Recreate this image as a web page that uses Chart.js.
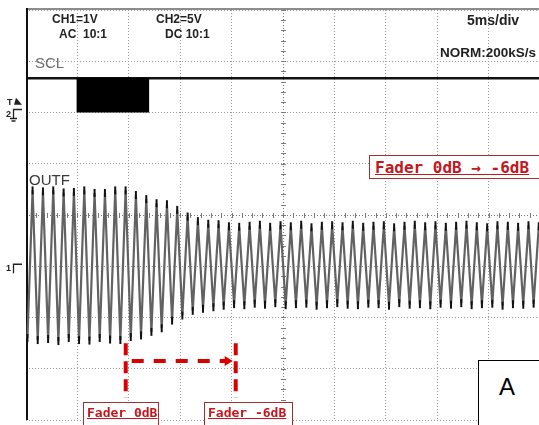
<!DOCTYPE html>
<html>
<head>
<meta charset="utf-8">
<script src="https://cdn.jsdelivr.net/npm/chart.js@4.4.1/dist/chart.umd.min.js"></script>
<style>
  html, body { margin: 0; padding: 0; background: #fff; }
  #wrap { position: relative; width: 539px; height: 425px; overflow: hidden; background: #fff; }
  #scope { position: absolute; left: 0; top: 0; }
  .lbl { position: absolute; white-space: pre; line-height: 1; font-family: "Liberation Sans", Arial, sans-serif; color: #222; }
  .hdr { font-weight: bold; font-size: 12px; }
  .box { position: absolute; background: #fff; box-sizing: border-box; }
  .fbox { border: 1.5px solid #a3302f; }
  .ftxt { color: #c4161c; font-family: "DejaVu Sans Mono", monospace; font-weight: bold; text-decoration: underline; }
</style>
</head>
<body>
<div id="wrap">
  <canvas id="scope" width="546" height="426"></canvas>

  <div class="lbl hdr" style="left:52px; top:13px;">CH1=1V</div>
  <div class="lbl hdr" style="left:59px; top:28px;">AC  10:1</div>
  <div class="lbl hdr" style="left:156px; top:13px;">CH2=5V</div>
  <div class="lbl hdr" style="left:165px; top:28px;">DC 10:1</div>
  <div class="lbl hdr" style="left:467px; top:13px; font-size:14px;">5ms/div</div>
  <div class="lbl hdr" style="left:440px; top:46px; font-size:13.5px;">NORM:200kS/s</div>

  <div class="lbl" style="left:35px; top:55px; font-size:15px; color:#6b6b6b;">SCL</div>
  <div class="lbl" style="left:29px; top:172px; font-size:15px; color:#3a3a3a;">OUTF</div>

  <div class="box fbox" style="left:369px; top:155px; width:172px; height:24px;"></div>
  <div class="lbl ftxt" style="left:375px; top:160px; font-size:16px;">Fader 0dB → -6dB</div>

  <div class="box fbox" style="left:83px; top:402px; width:76px; height:30px;"></div>
  <div class="lbl ftxt" style="left:87px; top:406px; font-size:13px;">Fader 0dB</div>
  <div class="box fbox" style="left:204px; top:402px; width:89px; height:30px;"></div>
  <div class="lbl ftxt" style="left:208px; top:406px; font-size:13px;">Fader -6dB</div>

  <div class="box" style="left:478px; top:360px; width:80px; height:80px; border:1.5px solid #000;"></div>
  <div class="lbl" style="left:499px; top:375px; font-size:24px; color:#000;">A</div>
</div>

<script>
'use strict';

/***** DATA (time in ms, level in divisions from screen centre) *****/
// OUTF (CH1, 1V/div, AC) : one trough and one peak per cycle of the 1kHz tone
var troughTimes = [0.14, 1.14, 2.15, 3.15, 4.16, 5.16, 6.17, 7.17, 8.18, 9.18,
                   10.19, 11.19, 12.20, 13.20, 14.21, 15.21, 16.22, 17.22, 18.23, 19.23,
                   20.24, 21.24, 22.25, 23.25, 24.25, 25.26, 26.26, 27.27, 28.27, 29.28,
                   30.28, 31.29, 32.29, 33.30, 34.30, 35.31, 36.31, 37.32, 38.32, 39.33,
                   40.33, 41.34, 42.34, 43.35, 44.35, 45.36, 46.36, 47.37, 48.37, 49.38];
var troughLevels = [-2.40, -2.44, -2.42, -2.46, -2.40, -2.44, -2.45, -2.40, -2.43, -2.44,
                    -2.38, -2.35, -2.28, -2.21, -2.06, -1.96, -1.87, -1.83, -1.80, -1.77,
                    -1.74, -1.76, -1.73, -1.75, -1.72, -1.76, -1.74, -1.73, -1.77, -1.74,
                    -1.72, -1.75, -1.76, -1.73, -1.74, -1.77, -1.72, -1.75, -1.74, -1.76,
                    -1.73, -1.75, -1.72, -1.76, -1.74, -1.73, -1.77, -1.74, -1.75, -1.73];
var peakTimes = [0.64, 1.65, 2.65, 3.66, 4.66, 5.67, 6.67, 7.68, 8.68, 9.69,
                 10.69, 11.70, 12.70, 13.71, 14.71, 15.72, 16.72, 17.73, 18.73, 19.74,
                 20.74, 21.75, 22.75, 23.75, 24.76, 25.76, 26.77, 27.77, 28.78, 29.78,
                 30.79, 31.79, 32.80, 33.80, 34.81, 35.81, 36.82, 37.82, 38.83, 39.83,
                 40.84, 41.84, 42.85, 43.85, 44.86, 45.86, 46.87, 47.87, 48.88, 49.88];
var peakLevels = [0.48, 0.46, 0.48, 0.44, 0.45, 0.48, 0.43, 0.43, 0.48, 0.48,
                  0.39, 0.31, 0.23, 0.21, 0.10, -0.03, -0.12, -0.17, -0.18, -0.22,
                  -0.23, -0.21, -0.19, -0.23, -0.20, -0.22, -0.19, -0.24, -0.21, -0.20,
                  -0.22, -0.19, -0.23, -0.21, -0.20, -0.24, -0.21, -0.19, -0.22, -0.20,
                  -0.23, -0.21, -0.19, -0.22, -0.24, -0.20, -0.21, -0.23, -0.20, -0.22];

// SCL (CH2, 5V/div, DC) : idle high with one burst of clocking
var sclHigh = 2.67;          // 3.3V above the CH2 ground
var sclLow = 2.0;            // CH2 ground
var burstTimes = [4.9, 12.0];

// screen markers
var ch1Ground = -1.0;
var ch2Ground = 2.0;
var trigLevel = 2.19;
var faderStartTime = 9.7;
var faderEndTime = 20.4;

var timeDivs = [0, 5, 10, 15, 20, 25, 30, 35, 40, 45, 50];
var levelDivs = [-4, -3, -2, -1, 0, 1, 2, 3, 4];


/***** BUILD SERIES *****/
var outfPoints = [];
for (var i = 0; i < peakTimes.length; i++) {
   outfPoints.push({ x: troughTimes[i], y: troughLevels[i] });
   outfPoints.push({ x: peakTimes[i], y: peakLevels[i] });
}

var sclPoints = [{ x: timeDivs[0], y: sclHigh }, { x: timeDivs[timeDivs.length - 1], y: sclHigh }];
var burstPoints = burstTimes.map(function (t) { return { x: t, y: sclHigh }; });


/***** SCREEN DECORATION *****/
var scopeDecor = {
   id: 'scopeDecor',
   beforeDatasetsDraw: function (chart) {
      var ctx = chart.ctx, a = chart.chartArea;
      var x = chart.scales.x, y = chart.scales.y;
      var cx = x.getPixelForValue(25), cy = y.getPixelForValue(0);
      ctx.save();

      // centre cross with minor ticks
      ctx.strokeStyle = '#7a7a7a';
      ctx.lineWidth = 1;
      ctx.setLineDash([1, 2]);
      ctx.beginPath();
      ctx.moveTo(a.left, Math.round(cy) + 0.5); ctx.lineTo(a.right, Math.round(cy) + 0.5);
      ctx.moveTo(Math.round(cx) + 0.5, a.top); ctx.lineTo(Math.round(cx) + 0.5, a.bottom);
      ctx.stroke();
      ctx.setLineDash([]);
      ctx.beginPath();
      for (var t = 0; t <= 50; t += 1) {
         var px = Math.round(x.getPixelForValue(t)) + 0.5;
         ctx.moveTo(px, cy - 2); ctx.lineTo(px, cy + 3);
      }
      for (var v = -4; v <= 4.001; v += 0.2) {
         var py = Math.round(y.getPixelForValue(v)) + 0.5;
         ctx.moveTo(cx - 2, py); ctx.lineTo(cx + 3, py);
      }
      ctx.stroke();

      // top edge and left edge of the screen
      ctx.strokeStyle = '#8c8c8c';
      ctx.lineWidth = 2;
      ctx.beginPath();
      ctx.moveTo(a.left, a.top - 1); ctx.lineTo(a.right, a.top - 1);
      ctx.stroke();
      ctx.strokeStyle = '#111';
      ctx.beginPath();
      ctx.moveTo(a.left + 1, a.top - 2); ctx.lineTo(a.left + 1, a.bottom);
      ctx.stroke();
      ctx.restore();
   },
   afterDraw: function (chart) {
      var ctx = chart.ctx;
      var x = chart.scales.x, y = chart.scales.y;
      ctx.save();

      // channel / trigger markers on the left
      ctx.fillStyle = '#222';
      ctx.strokeStyle = '#222';
      ctx.lineWidth = 1.3;
      ctx.font = 'bold 9px "Liberation Sans", Arial, sans-serif';
      var ty = y.getPixelForValue(trigLevel);
      ctx.fillText('T', 7, ty + 2);
      ctx.beginPath();
      ctx.moveTo(14, ty + 2); ctx.lineTo(22, ty + 2); ctx.lineTo(16, ty - 5); ctx.closePath();
      ctx.fill();

      var g2 = y.getPixelForValue(ch2Ground);
      ctx.fillText('2', 6, g2 + 4);
      ctx.beginPath();
      ctx.moveTo(22, g2 - 3); ctx.lineTo(13.5, g2 - 3); ctx.lineTo(13.5, g2 + 6);
      ctx.moveTo(10, g2 + 6); ctx.lineTo(17, g2 + 6);
      ctx.moveTo(11.5, g2 + 8.5); ctx.lineTo(15.5, g2 + 8.5);
      ctx.stroke();

      var g1 = y.getPixelForValue(ch1Ground);
      ctx.fillText('1', 6, g1 + 5);
      ctx.beginPath();
      ctx.moveTo(22, g1 - 2); ctx.lineTo(13.5, g1 - 2); ctx.lineTo(13.5, g1 + 7);
      ctx.stroke();

      // red fader markers
      var red = '#d80000';
      var x0 = x.getPixelForValue(faderStartTime), x1 = x.getPixelForValue(faderEndTime);
      var yTop = y.getPixelForValue(-2.5), yBot = y.getPixelForValue(-3.56);
      var yArrow = y.getPixelForValue(-2.85);
      ctx.strokeStyle = red;
      ctx.fillStyle = red;
      ctx.lineWidth = 4;
      ctx.setLineDash([12, 6]);
      ctx.beginPath();
      ctx.moveTo(x0, yTop); ctx.lineTo(x0, yBot);
      ctx.moveTo(x1, yTop); ctx.lineTo(x1, yBot);
      ctx.stroke();
      ctx.setLineDash([12, 10]);
      ctx.beginPath();
      ctx.moveTo(x0 + 6, yArrow); ctx.lineTo(x1 - 10, yArrow);
      ctx.stroke();
      ctx.setLineDash([]);
      ctx.beginPath();
      ctx.moveTo(x1 - 3, yArrow); ctx.lineTo(x1 - 11, yArrow - 5); ctx.lineTo(x1 - 11, yArrow + 5); ctx.closePath();
      ctx.fill();
      ctx.restore();
   }
};


/***** CHART *****/
function gridColor(centre) {
   return function (c) {
      return c.tick && c.tick.value === centre ? 'rgba(0,0,0,0)' : '#9a9a9a';
   };
}

new Chart(document.getElementById('scope'), {
   type: 'line',
   data: {
      datasets: [
         {
            label: 'SCL burst',
            data: burstPoints,
            borderColor: '#000',
            borderWidth: 1,
            backgroundColor: '#000',
            fill: { value: sclLow },
            pointRadius: 0
         },
         {
            label: 'SCL',
            data: sclPoints,
            borderColor: '#111',
            borderWidth: 2.5,
            pointRadius: 0,
            fill: false
         },
         {
            label: 'OUTF',
            data: outfPoints,
            borderColor: '#626262',
            borderWidth: 2.2,
            tension: 0,
            fill: false,
            pointStyle: 'line',
            rotation: 90,
            pointRadius: 4,
            pointBorderColor: '#111',
            pointBorderWidth: 2
         }
      ]
   },
   options: {
      responsive: false,
      animation: false,
      events: [],
      layout: { padding: { left: 26, top: 10, right: 0, bottom: 0 } },
      plugins: { legend: { display: false }, tooltip: { enabled: false } },
      scales: {
         x: {
            type: 'linear',
            min: timeDivs[0],
            max: timeDivs[timeDivs.length - 1],
            afterBuildTicks: function (s) { s.ticks = timeDivs.map(function (v) { return { value: v }; }); },
            ticks: { display: false },
            grid: { color: gridColor(25), lineWidth: 1, drawTicks: false, borderDash: [1, 2] },
            border: { display: false, dash: [1, 2] }
         },
         y: {
            type: 'linear',
            min: levelDivs[0],
            max: levelDivs[levelDivs.length - 1],
            afterBuildTicks: function (s) { s.ticks = levelDivs.map(function (v) { return { value: v }; }); },
            ticks: { display: false },
            grid: { color: gridColor(0), lineWidth: 1, drawTicks: false, borderDash: [1, 2] },
            border: { display: false, dash: [1, 2] }
         }
      }
   },
   plugins: [scopeDecor]
});
</script>
</body>
</html>
